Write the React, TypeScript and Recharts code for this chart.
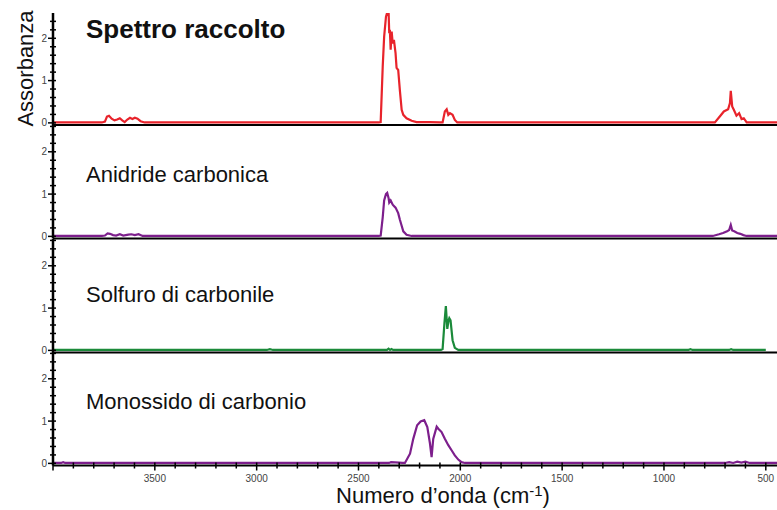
import { Line, LineChart, XAxis, YAxis } from 'recharts'

// wavenumber (cm-1), absorbance
const SPETTRO_RACCOLTO: [number, number][] = [
  [4000, 0.01], [3800, 0.01], [3760, 0.01], [3745, 0.03], [3735, 0.15], [3725, 0.17], [3712, 0.1], [3698, 0.06],
  [3685, 0.08], [3672, 0.11], [3660, 0.06], [3648, 0.02], [3635, 0.08], [3622, 0.12], [3610, 0.09], [3598, 0.12],
  [3585, 0.1], [3570, 0.04], [3550, 0.01], [3000, 0.01], [2600, 0.01], [2400, 0.01],
  [2391, 0.02], [2381, 1.33], [2374, 2.04], [2365, 2.51], [2359, 2.61], [2352, 2.6], [2349, 2.12], [2346, 2.2],
  [2342, 1.73], [2337, 2.16], [2332, 1.88], [2326, 1.96], [2318, 1.65], [2313, 1.3], [2305, 1.25], [2297, 0.78],
  [2288, 0.31], [2280, 0.19], [2264, 0.11], [2239, 0.05], [2215, 0.02], [2150, 0.02], [2100, 0.01],
  [2087, 0.01], [2076, 0.27], [2067, 0.32], [2059, 0.19], [2051, 0.23], [2038, 0.19], [2027, 0.07], [2015, 0.01],
  [1500, 0.01], [1000, 0.01], [750, 0.01], [726, 0.15], [706, 0.27], [685, 0.32], [676, 0.47], [672, 0.76],
  [665, 0.39], [657, 0.31], [644, 0.17], [631, 0.23], [619, 0.09], [608, 0.11], [594, 0.01], [445, 0.01],
]

const ANIDRIDE_CARBONICA: [number, number][] = [
  [4000, 0.01], [3760, 0.01], [3745, 0.02], [3732, 0.07], [3720, 0.06], [3705, 0.03], [3690, 0.02], [3672, 0.05],
  [3655, 0.02], [3630, 0.04], [3615, 0.05], [3598, 0.03], [3580, 0.05], [3560, 0.01],
  [2400, 0.01], [2391, 0.02], [2381, 0.45], [2374, 0.85], [2365, 1.0], [2359, 1.03], [2352, 0.9], [2349, 0.8],
  [2342, 0.85], [2332, 0.75], [2326, 0.72], [2318, 0.68], [2305, 0.55], [2297, 0.4], [2288, 0.25], [2280, 0.12],
  [2264, 0.04], [2239, 0.01],
  [760, 0.01], [730, 0.05], [710, 0.08], [690, 0.12], [680, 0.15], [672, 0.27], [665, 0.14], [655, 0.12],
  [640, 0.08], [625, 0.06], [610, 0.03], [595, 0.01], [445, 0.01],
]

const SOLFURO_DI_CARBONILE: [number, number][] = [
  [4000, 0.01], [2950, 0.01], [2935, 0.03], [2920, 0.01], [2360, 0.01], [2352, 0.04], [2345, 0.01], [2338, 0.03],
  [2330, 0.01], [2095, 0.01], [2087, 0.03], [2078, 0.64], [2071, 1.05], [2064, 0.51], [2058, 0.7], [2054, 0.76],
  [2048, 0.71], [2038, 0.24], [2027, 0.06], [2010, 0.01], [880, 0.01], [870, 0.03], [860, 0.01], [680, 0.01],
  [670, 0.03], [660, 0.01], [500, 0.01],
]

const MONOSSIDO_DI_CARBONIO: [number, number][] = [
  [4000, 0.01], [3960, 0.01], [3950, 0.03], [3940, 0.01], [2350, 0.01], [2340, 0.03], [2300, 0.02], [2285, 0.01],
  [2272, 0.01], [2247, 0.23], [2231, 0.58], [2212, 0.9], [2195, 0.99], [2177, 1.02], [2162, 0.86], [2149, 0.47],
  [2141, 0.15], [2133, 0.58], [2116, 0.87], [2108, 0.82], [2092, 0.74], [2076, 0.58], [2059, 0.43], [2043, 0.31],
  [2027, 0.19], [2010, 0.09], [1994, 0.03], [1977, 0.01], [700, 0.01], [680, 0.03], [660, 0.01], [640, 0.04],
  [620, 0.02], [600, 0.04], [580, 0.01], [445, 0.01],
]

const TITLES = ['Spettro raccolto', 'Anidride carbonica', 'Solfuro di carbonile', 'Monossido di carbonio']
const Y_TICKS = [0, 0.2, 0.4, 0.6, 0.8, 1, 1.2, 1.4, 1.6, 1.8, 2, 2.2, 2.4, 2.6]
const X_TICKS = [4000, 3900, 3800, 3700, 3600, 3500, 3400, 3300, 3200, 3100, 3000, 2900, 2800, 2700, 2600, 2500,
  2400, 2300, 2200, 2100, 2000, 1900, 1800, 1700, 1600, 1500, 1400, 1300, 1200, 1100, 1000, 900, 800, 700, 600, 500]

const RED = '#e8232b'
const PURPLE = '#7d1f8c'
const GREEN = '#1b8a3a'
const FONT = '"Liberation Sans", Arial, sans-serif'

const WN_DOMAIN: [number, number] = [445, 4000]
const Y_MIN = -0.05
const PX_PER_UNIT = 42.3

const PANELS = [
  { data: SPETTRO_RACCOLTO, color: RED, top: 13, bottom: 125, titleY: 38 },
  { data: ANIDRIDE_CARBONICA, color: PURPLE, top: 125, bottom: 238.5, titleY: 182 },
  { data: SOLFURO_DI_CARBONILE, color: GREEN, top: 238.5, bottom: 352, titleY: 302 },
  { data: MONOSSIDO_DI_CARBONIO, color: PURPLE, top: 352, bottom: 465.5, titleY: 409 },
]

function YTick(props: any) {
  const { x, y, payload } = props
  const v = payload.value as number
  const major = Math.abs(v - Math.round(v)) < 1e-6
  return (
    <g>
      <line x1={major ? x - 5 : x - 3} x2={x + 3} y1={y} y2={y} stroke="#000" strokeWidth={1.5} />
      {major && (
        <text x={x - 6} y={y} dy={3.5} textAnchor="end" fontSize={10} fill="#444" fontFamily={FONT}>
          {Math.round(v)}
        </text>
      )}
    </g>
  )
}

function XTick(props: any) {
  const { x, y, payload } = props
  const v = payload.value as number
  const major = v % 500 === 0
  return (
    <g>
      <line x1={x} x2={x} y1={y - 3} y2={y + (major ? 5 : 3)} stroke="#000" strokeWidth={1.5} />
      {major && v < 4000 && (
        <text x={x} y={y + 16} textAnchor="middle" fontSize={10} fill="#444" fontFamily={FONT}>
          {v}
        </text>
      )}
    </g>
  )
}

function Panel({ data, color, top, bottom, last }: { data: [number, number][]; color: string; top: number; bottom: number; last: boolean }) {
  const rows = data.map(([wn, a]) => ({ wn, a }))
  const plotH = bottom - top
  const yMax = Y_MIN + plotH / PX_PER_UNIT
  const axisH = last ? 34 : 2
  return (
    <div style={{ position: 'absolute', left: 0, top }}>
      <LineChart width={777} height={plotH + axisH} data={rows} margin={{ top: 0, right: 0, bottom: 0, left: 0 }}>
        <XAxis
          type="number"
          dataKey="wn"
          domain={WN_DOMAIN}
          reversed
          allowDataOverflow
          height={axisH}
          ticks={last ? X_TICKS : []}
          interval={0}
          tick={last ? XTick : false}
          tickLine={false}
          tickSize={0}
          tickMargin={0}
          axisLine={{ stroke: '#000', strokeWidth: 2 }}
        />
        <YAxis
          type="number"
          domain={[Y_MIN, yMax]}
          allowDataOverflow
          width={53}
          ticks={Y_TICKS.filter((t) => t <= yMax + 1e-6)}
          interval={0}
          tick={YTick}
          tickLine={false}
          tickSize={0}
          tickMargin={0}
          axisLine={{ stroke: '#000', strokeWidth: 2.5 }}
        />
        <Line type="linear" dataKey="a" stroke={color} strokeWidth={2.2} dot={false} isAnimationActive={false} />
      </LineChart>
    </div>
  )
}

export default function App() {
  return (
    <div style={{ position: 'absolute', left: 0, top: 0, width: 777, height: 510, background: '#fff' }}>
      {PANELS.map((p, i) => (
        <Panel key={i} data={p.data} color={p.color} top={p.top} bottom={p.bottom} last={i === PANELS.length - 1} />
      ))}
      <svg width={777} height={510} style={{ position: 'absolute', left: 0, top: 0, pointerEvents: 'none' }} fontFamily={FONT}>
        {PANELS.map((p, i) => (
          <text key={i} x={86} y={p.titleY} fontSize={i === 0 ? 26 : 22} fontWeight={i === 0 ? 'bold' : 'normal'} fill="#111">
            {TITLES[i]}
          </text>
        ))}
        <text x={33} y={68.5} transform="rotate(-90 33 68.5)" textAnchor="middle" fontSize={22} fill="#111">
          Assorbanza
        </text>
        <text x={443} y={503} textAnchor="middle" fontSize={22} fill="#111">
          Numero d’onda (cm<tspan fontSize={15} dy={-7}>-1</tspan><tspan dy={7}>)</tspan>
        </text>
      </svg>
    </div>
  )
}
